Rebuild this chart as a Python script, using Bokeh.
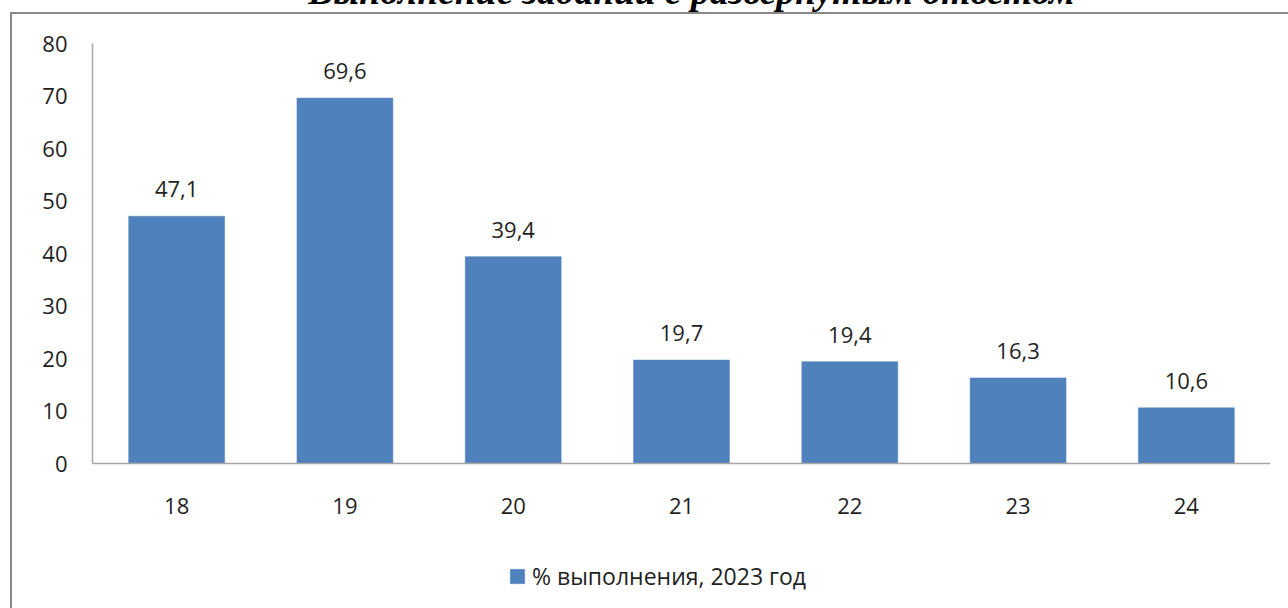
from bokeh.plotting import figure
from bokeh.models import (ColumnDataSource, FixedTicker, Label,
                          Legend, LegendItem)
from bokeh.core.properties import value
from bokeh.embed import file_html
from bokeh.resources import INLINE

# ---- data ----
tasks = ["18", "19", "20", "21", "22", "23", "24"]
percent_2023 = [47.1, 69.6, 39.4, 19.7, 19.4, 16.3, 10.6]
y_ticks = [0, 10, 20, 30, 40, 50, 60, 70, 80]
y_min, y_max = 0, 80
series_name = "% выполнения, 2023 год"
chart_title = "Выполнение заданий с развернутым ответом"

labels = [f"{v:.1f}".replace(".", ",") for v in percent_2023]
src = ColumnDataSource(dict(task=tasks, val=percent_2023, lab=labels))

FONT = "Open Sans"
TXT = "#1f1f1f"
AXIS = "#a6a6a6"
BORDER = "#888888"

# plot area: 420 px for 0..80; the frame continues below 0 to hold the legend
PX_PER_UNIT = 420 / (y_max - y_min)
BELOW_PX = 145
p = figure(x_range=tasks, y_range=(y_min - BELOW_PX / PX_PER_UNIT, y_max),
           width=1288, height=608,
           frame_width=1178, frame_height=420 + BELOW_PX,
           min_border_left=92, min_border_right=18,
           min_border_top=43, min_border_bottom=0,
           output_backend="svg", toolbar_location=None, tools="")
p.outline_line_color = None
p.background_fill_color = "white"
p.border_fill_color = None
# outer chart-area border (top and left edges visible in the original)
p.styles = {
    "background": (f"linear-gradient({BORDER},{BORDER}) 10px 12px / 2px 100% no-repeat, "
                   f"linear-gradient({BORDER},{BORDER}) 10px 12px / 100% 2px no-repeat, "
                   "white"),
}
p.xgrid.visible = False
p.ygrid.visible = False

r = p.vbar(x="task", top="val", width=0.57, source=src,
           fill_color="#4f81bd", line_color="#4f81bd", line_width=0.5)

p.text(x="task", y="val", text="lab", source=src,
       text_align="center", text_baseline="alphabetic", y_offset=-27,
       text_font=value(FONT), text_font_size="22px", text_color=TXT)

# axes
for ax in (p.xaxis[0], p.yaxis[0]):
    ax.axis_line_color = AXIS
    ax.axis_line_width = 1.5
    ax.major_tick_line_color = None
    ax.minor_tick_line_color = None
    ax.major_tick_in = 0
    ax.major_tick_out = 0
    ax.minor_tick_in = 0
    ax.minor_tick_out = 0
    ax.major_label_text_font = FONT
    ax.major_label_text_font_size = "22px"
    ax.major_label_text_color = TXT
p.yaxis[0].ticker = FixedTicker(ticks=y_ticks)
p.yaxis[0].bounds = (y_min, y_max)
p.yaxis[0].major_label_standoff = 25
p.xaxis[0].fixed_location = y_min
p.xaxis[0].major_label_standoff = 34

# legend (inside the lower part of the frame, under the category labels)
leg = Legend(items=[LegendItem(label=series_name, renderers=[r])],
             location=(416, 16), orientation="horizontal",
             glyph_width=18, glyph_height=18, label_standoff=6,
             padding=0, margin=0, spacing=0,
             background_fill_alpha=0, border_line_color=None,
             label_text_font=FONT, label_text_font_size="23px",
             label_text_color=TXT)
p.add_layout(leg, "center")

# title (clipped at the top as in the original)
p.add_layout(Label(x=599, y=52, x_units="screen", y_units="screen",
                   text=chart_title, text_align="center",
                   text_baseline="alphabetic",
                   text_font="Liberation Serif", text_font_style="bold italic",
                   text_font_size="37.5px", text_color="black"),
             "above")

open("out.html", "w").write(file_html(p, INLINE))
